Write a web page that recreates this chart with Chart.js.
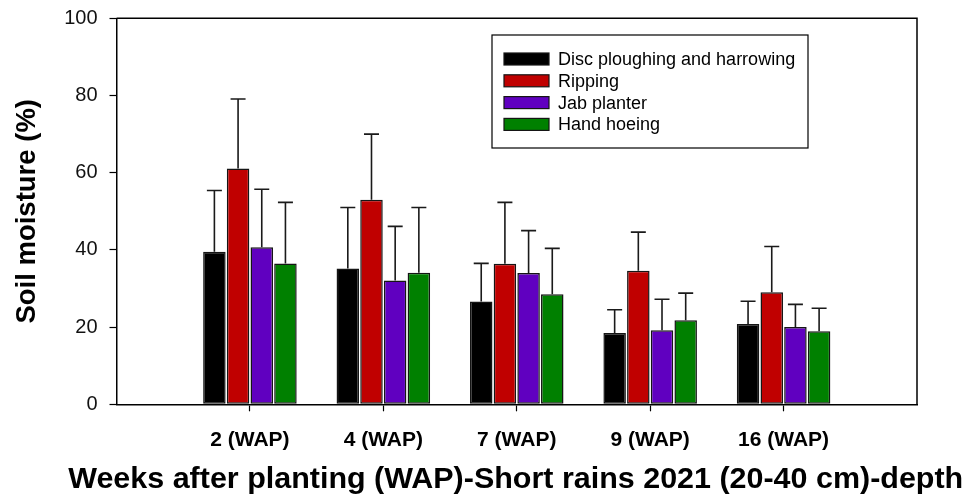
<!DOCTYPE html>
<html>
<head>
<meta charset="utf-8">
<script src="https://cdn.jsdelivr.net/npm/chart.js@4.4.1/dist/chart.umd.min.js"></script>
<style>
  html, body { margin: 0; padding: 0; background: #ffffff; }
  #wrap { width: 968px; height: 497px; }
</style>
</head>
<body>
<div id="wrap"><canvas id="chart" width="968" height="497"></canvas></div>
<script>
// Sampling times (weeks after planting)
const categories = ['2 (WAP)', '4 (WAP)', '7 (WAP)', '9 (WAP)', '16 (WAP)'];

// Tillage treatments
const seriesNames = ['Disc ploughing and harrowing', 'Ripping', 'Jab planter', 'Hand hoeing'];
const seriesColors = ['#000000', '#c00000', '#6000c0', '#008000'];

// Mean soil moisture (%) per treatment
const discValues    = [39.5, 35.2, 26.6, 18.5, 20.8];
const rippingValues = [61.1, 53.0, 36.4, 34.6, 29.0];
const jabValues     = [40.7, 32.1, 34.0, 19.2, 20.0];
const hoeingValues  = [36.5, 34.1, 28.5, 21.8, 18.9];

// Upper error (standard deviation) per treatment
const discErrors    = [15.9, 15.8, 9.9, 6.0, 5.9];
const rippingErrors = [18.0, 17.0, 15.9, 10.0, 11.9];
const jabErrors     = [15.0, 14.0, 11.0, 8.0, 5.9];
const hoeingErrors  = [15.8, 16.9, 11.9, 7.0, 6.0];

// Y axis range and ticks
const yMin = 0;
const yMax = 100;
const yStep = 20;

const xTitle = 'Weeks after planting (WAP)-Short rains 2021 (20-40 cm)-depth';
const yTitle = 'Soil moisture (%)';

const FONT = '"Liberation Sans", Arial, sans-serif';

// Empty slots at both ends give the half-interval margin on each side of the plot
const axisLabels = [''].concat(categories, ['']);
const pad = arr => [null].concat(arr, [null]);

const allValues = [discValues, rippingValues, jabValues, hoeingValues];
const allErrors = [discErrors, rippingErrors, jabErrors, hoeingErrors];

const datasets = seriesNames.map((name, i) => ({
  label: name,
  data: pad(allValues[i]),
  errors: pad(allErrors[i]),
  backgroundColor: seriesColors[i],
  borderColor: '#151515',
  borderWidth: 1.5,
  borderSkipped: false,
  categoryPercentage: 0.71,
  barPercentage: 0.95
}));

// Frame on the top and right sides of the plot area
const framePlugin = {
  id: 'frame',
  afterDraw(chart) {
    const { ctx, chartArea: a } = chart;
    ctx.save();
    ctx.strokeStyle = '#000';
    ctx.lineWidth = 1.5;
    ctx.beginPath();
    ctx.moveTo(a.left, a.top);
    ctx.lineTo(a.right, a.top);
    ctx.lineTo(a.right, a.bottom);
    ctx.stroke();
    ctx.restore();
  }
};

// Upper error bars with caps
const errorBarPlugin = {
  id: 'errorBars',
  afterDatasetsDraw(chart) {
    const { ctx } = chart;
    const yScale = chart.scales.y;
    ctx.save();
    ctx.strokeStyle = '#1a1a1a';
    ctx.lineWidth = 1.6;
    chart.data.datasets.forEach((ds, di) => {
      const meta = chart.getDatasetMeta(di);
      meta.data.forEach((bar, i) => {
        const v = ds.data[i];
        const e = ds.errors[i];
        if (v == null || e == null) return;
        const yTop = yScale.getPixelForValue(v + e);
        const yBar = yScale.getPixelForValue(v);
        const x = bar.x;
        ctx.beginPath();
        ctx.moveTo(x, yBar);
        ctx.lineTo(x, yTop);
        ctx.moveTo(x - 7.5, yTop);
        ctx.lineTo(x + 7.5, yTop);
        ctx.stroke();
      });
    });
    ctx.restore();
  }
};

// Wide x-axis title that runs past the plot edges (not clipped to the scale width)
const xTitlePlugin = {
  id: 'xTitle',
  afterDraw(chart) {
    const { ctx } = chart;
    ctx.save();
    ctx.font = 'bold 29px ' + FONT;
    ctx.fillStyle = '#000';
    ctx.textAlign = 'center';
    ctx.textBaseline = 'alphabetic';
    const w = ctx.measureText(xTitle).width;
    const sx = 895 / w;
    ctx.translate(515.7, 488.3);
    ctx.scale(sx, 1);
    ctx.fillText(xTitle, 0, 0);
    ctx.restore();
  }
};

// Boxed legend inside the plot area
const legendBoxPlugin = {
  id: 'legendBox',
  afterDraw(chart) {
    const { ctx } = chart;
    const box = { x: 492, y: 35, w: 316, h: 113 };
    ctx.save();
    ctx.fillStyle = '#fff';
    ctx.fillRect(box.x, box.y, box.w, box.h);
    ctx.strokeStyle = '#000';
    ctx.lineWidth = 1.2;
    ctx.strokeRect(box.x, box.y, box.w, box.h);
    ctx.font = '18px ' + FONT;
    ctx.textBaseline = 'middle';
    ctx.textAlign = 'left';
    chart.data.datasets.forEach((ds, i) => {
      const cy = 59 + i * 21.8;
      ctx.fillStyle = ds.backgroundColor;
      ctx.fillRect(504, cy - 6, 45, 12);
      ctx.strokeStyle = '#151515';
      ctx.lineWidth = 1.2;
      ctx.strokeRect(504, cy - 6, 45, 12);
      ctx.fillStyle = '#000';
      ctx.fillText(ds.label, 558, cy + 1);
    });
    ctx.restore();
  }
};

new Chart(document.getElementById('chart'), {
  type: 'bar',
  data: { labels: axisLabels, datasets },
  plugins: [framePlugin, errorBarPlugin, xTitlePlugin, legendBoxPlugin],
  options: {
    responsive: false,
    animation: false,
    devicePixelRatio: 1,
    layout: { padding: { left: 0, top: 18.3, right: 51, bottom: 0 } },
    plugins: {
      legend: { display: false },
      tooltip: { enabled: false }
    },
    scales: {
      x: {
        type: 'category',
        offset: false,
        afterFit(scale) {
          scale.height = 92.7;
          scale.paddingLeft = 0;
          scale.paddingRight = 0;
        },
        border: { display: true, color: '#000', width: 1.5 },
        grid: {
          display: true,
          offset: false,
          drawOnChartArea: false,
          drawTicks: true,
          tickLength: 7,
          tickWidth: 1.2,
          tickColor: ctx => (ctx.tick && ctx.tick.label ? '#000' : 'rgba(0,0,0,0)')
        },
        ticks: {
          autoSkip: false,
          maxRotation: 0,
          padding: 16,
          color: '#000',
          font: { family: FONT, size: 21, weight: 'bold' }
        },
        title: { display: false }
      },
      y: {
        min: yMin,
        max: yMax,
        afterFit(scale) {
          scale.width = 116.5;
          scale.paddingTop = 0;
          scale.paddingBottom = 0;
        },
        border: { display: true, color: '#000', width: 1.5 },
        grid: {
          display: true,
          drawOnChartArea: false,
          drawTicks: true,
          tickLength: 7,
          tickWidth: 1.2,
          tickColor: '#000'
        },
        ticks: {
          stepSize: yStep,
          padding: 12,
          color: '#111',
          font: { family: FONT, size: 20 }
        },
        title: {
          display: true,
          text: yTitle,
          color: '#000',
          font: { family: FONT, size: 27.5, weight: 'bold', lineHeight: 1.2 },
          padding: { top: 11, bottom: 0 }
        }
      }
    }
  }
});
</script>
</body>
</html>
